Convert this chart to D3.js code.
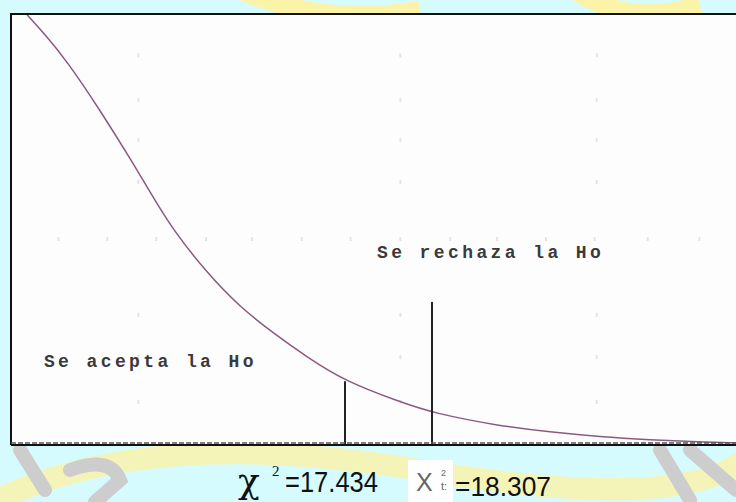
<!DOCTYPE html>
<html>
<head>
<meta charset="utf-8">
<script src="https://cdn.jsdelivr.net/npm/d3@7"></script>
<style>
  body { margin: 0; background: #d6fbfe; }
  svg { display: block; }
</style>
</head>
<body>
<script>
// curve (chi-square value, relative density)
const curveX = [14.244, 14.404, 14.645, 14.976, 15.307, 15.508, 15.709, 16.050, 16.381, 16.712,
  17.053, 17.434, 17.986, 18.317, 18.990, 19.491, 19.993, 20.495, 20.997, 21.357]
const curveY = [0.998, 0.958, 0.891, 0.777, 0.654, 0.575, 0.499, 0.399, 0.320, 0.260,
  0.204, 0.148, 0.100, 0.074, 0.044, 0.030, 0.019, 0.012, 0.007, 0.005]

// critical lines: calculated and table value
const critValues = [17.434, 18.307]
const critTops = [0.148, 0.332]

// faint dot grid of the original plot
const dotColsX = [15.36, 17.99, 19.96]
const dotRowsY = [0.904, 0.800, 0.708, 0.610, 0.302, 0.204, 0.100]
const dotMidRowX = [14.56, 15.05, 15.54, 16.04, 16.50, 17.00, 17.49, 17.99, 18.49, 18.96, 19.45, 19.94, 20.47, 20.99]
const dotMidRowY = 0.478

const regionLabels = [
  { text: 'Se acepta la Ho', x: 14.413, y: 0.181 },
  { text: 'Se rechaza la Ho', x: 17.755, y: 0.435 }
]

const W = 736, H = 502
const box = { left: 11, top: 14, right: 740, bottom: 445 }

const svg = d3.select('body').append('svg')
    .attr('width', W)
    .attr('height', H)

//x
const x = d3.scaleLinear()
    .domain([14.083, 21.397])
    .range([box.left, box.right])
//y
const y = d3.scaleLinear()
    .domain([0, 1])
    .range([box.bottom, box.top])

// watermark bits outside the plot
const wm = svg.append('g')
wm.append('path')
    .attr('d', 'M-40,520 Q120,420 420,470 T760,440')
    .attr('fill', 'none')
    .attr('stroke', '#fbf3a8')
    .attr('stroke-width', 22)
    .attr('opacity', 0.8)
wm.append('path')
    .attr('d', 'M200,-30 Q300,30 420,10 M560,-20 Q620,30 700,5')
    .attr('fill', 'none')
    .attr('stroke', '#fbf3a8')
    .attr('stroke-width', 18)
wm.append('path')
    .attr('d', 'M20,450 L45,490 M70,470 Q110,455 120,480 L95,502 M660,450 L690,500 M690,450 L736,490')
    .attr('fill', 'none')
    .attr('stroke', '#cdcdcd')
    .attr('stroke-width', 14)
    .attr('stroke-linecap', 'round')

// plot area
svg.append('rect')
    .attr('x', box.left)
    .attr('y', box.top)
    .attr('width', box.right - box.left)
    .attr('height', box.bottom - box.top)
    .attr('fill', '#fefdfe')

// dot grid
const dots = svg.append('g').attr('fill', '#e4e4e4')
dotColsX.forEach(cx => {
    dots.selectAll(null)
        .data(dotRowsY).enter()
        .append('rect')
        .attr('x', x(cx) - 1)
        .attr('y', d => y(d) - 2)
        .attr('width', 2)
        .attr('height', 4)
})
dots.selectAll(null)
    .data(dotMidRowX).enter()
    .append('rect')
    .attr('x', d => x(d) - 1)
    .attr('y', y(dotMidRowY) - 2)
    .attr('width', 2)
    .attr('height', 4)

// curve
const curve = d3.range(curveX.length).map(i => [curveX[i], curveY[i]])
svg.append('path')
    .datum(curve)
    .attr('fill', 'none')
    .attr('stroke', '#8a5a7e')
    .attr('stroke-width', 1.5)
    .attr('d', d3.line().x(d => x(d[0])).y(d => y(d[1])).curve(d3.curveBasis))

// critical lines
svg.selectAll('.crit')
    .data(critValues).enter()
    .append('line')
    .attr('class', 'crit')
    .attr('x1', d => x(d))
    .attr('x2', d => x(d))
    .attr('y1', (d, i) => y(critTops[i]))
    .attr('y2', y(0))
    .attr('stroke', '#222')
    .attr('stroke-width', 2)

// frame: left, top and the dashed base
svg.append('path')
    .attr('d', `M${box.left},${box.bottom} V${box.top} H${box.right}`)
    .attr('fill', 'none')
    .attr('stroke', '#111')
    .attr('stroke-width', 2)
svg.append('line')
    .attr('x1', box.left).attr('x2', box.right)
    .attr('y1', box.bottom - 2).attr('y2', box.bottom - 2)
    .attr('stroke', '#555')
    .attr('stroke-width', 1.5)
    .attr('stroke-dasharray', '5,2')
svg.append('line')
    .attr('x1', box.left).attr('x2', box.right)
    .attr('y1', box.bottom).attr('y2', box.bottom)
    .attr('stroke', '#111')
    .attr('stroke-width', 2)

// region labels
svg.selectAll('.region')
    .data(regionLabels).enter()
    .append('text')
    .attr('class', 'region')
    .attr('x', d => x(d.x))
    .attr('y', d => y(d.y))
    .attr('font-family', 'Liberation Mono, DejaVu Sans Mono, monospace')
    .attr('font-weight', 'bold')
    .attr('font-size', 18)
    .attr('letter-spacing', 3.4)
    .attr('fill', '#3a3a3a')
    .text(d => d.text)

// bottom labels
const lab = svg.append('g')
const chiX = x(critValues[0]) - 107
lab.append('text')
    .attr('x', chiX)
    .attr('y', 493)
    .attr('font-family', 'DejaVu Serif, serif')
    .attr('font-size', 36)
    .attr('fill', '#111')
    .text('χ')
lab.append('text')
    .attr('x', chiX + 34)
    .attr('y', 476)
    .attr('font-family', 'Liberation Serif, serif')
    .attr('font-size', 15)
    .attr('fill', '#111')
    .text('2')
lab.append('text')
    .attr('x', chiX + 47)
    .attr('y', 492)
    .attr('font-family', 'Liberation Sans, Arial, sans-serif')
    .attr('font-size', 30)
    .attr('textLength', 93)
    .attr('lengthAdjust', 'spacingAndGlyphs')
    .attr('fill', '#111')
    .text('=' + critValues[0].toFixed(3))

const tX = x(critValues[1]) - 24
lab.append('rect')
    .attr('x', tX)
    .attr('y', 460)
    .attr('width', 45)
    .attr('height', 42)
    .attr('fill', '#ffffff')
lab.append('text')
    .attr('x', tX + 8)
    .attr('y', 491)
    .attr('font-family', 'Liberation Sans, Arial, sans-serif')
    .attr('font-size', 25)
    .attr('fill', '#666')
    .text('X')
lab.append('text')
    .attr('x', tX + 33)
    .attr('y', 476)
    .attr('font-family', 'Liberation Sans, Arial, sans-serif')
    .attr('font-size', 9)
    .attr('fill', '#666')
    .text('2')
lab.append('text')
    .attr('x', tX + 33)
    .attr('y', 490)
    .attr('font-family', 'Liberation Sans, Arial, sans-serif')
    .attr('font-size', 11)
    .attr('fill', '#666')
    .text('t:')
lab.append('text')
    .attr('x', tX + 47)
    .attr('y', 496)
    .attr('font-family', 'Liberation Sans, Arial, sans-serif')
    .attr('font-size', 28)
    .attr('textLength', 96)
    .attr('lengthAdjust', 'spacingAndGlyphs')
    .attr('fill', '#111')
    .text('=' + critValues[1].toFixed(3))
</script>
</body>
</html>
